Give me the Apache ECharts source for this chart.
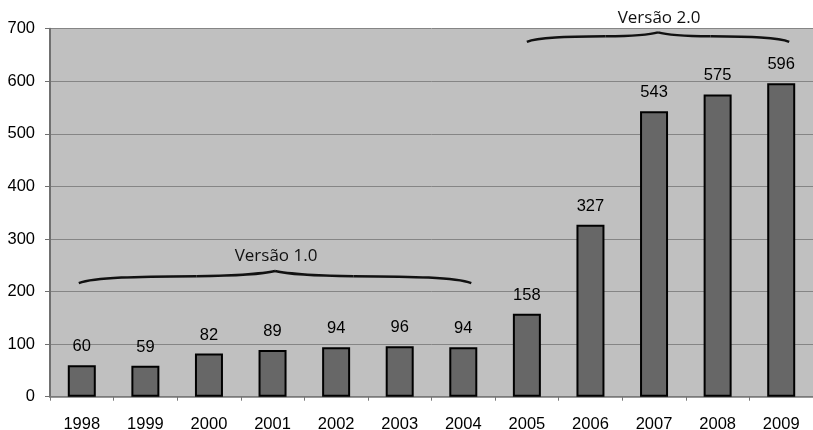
<!DOCTYPE html>
<html>
<head>
<meta charset="utf-8">
<script src="https://cdn.jsdelivr.net/npm/echarts@6/dist/echarts.min.js"></script>
<style>
html,body{margin:0;padding:0;background:#fff;}
#chart{width:813px;height:430px;}
</style>
</head>
<body>
<div id="chart"></div>
<script>
// Yearly counts, 1998–2009
var years = ['1998','1999','2000','2001','2002','2003','2004','2005','2006','2007','2008','2009'];
var counts = [60, 59, 82, 89, 94, 96, 94, 158, 327, 543, 575, 596];
var yTicks = [0, 100, 200, 300, 400, 500, 600, 700];

// Brace annotations: [first category, last category, base value, peak value, text]
var braceV1 = ['1998', '2004', 216, 239, 'Versão 1.0'];
var braceV2 = ['2005', '2009', 675, 693, 'Versão 2.0'];

var FONT = 'Liberation Sans, Arial, sans-serif';
var chart = echarts.init(document.getElementById('chart'));

chart.setOption({
  animation: false,
  backgroundColor: '#ffffff',
  grid: { left: 50, right: 0, top: 28.7, bottom: 33.3, containLabel: false,
          outerBoundsMode: 'none',
          show: true, backgroundColor: '#c0c0c0', borderWidth: 0 },
  xAxis: {
    type: 'category',
    data: years,
    axisLine: { show: true, lineStyle: { color: '#777777', width: 1.5 } },
    axisTick: { show: true, length: 4, lineStyle: { color: '#777777' } },
    axisLabel: { color: '#000', fontFamily: FONT, fontSize: 16.5, margin: 19 }
  },
  yAxis: {
    type: 'value',
    min: yTicks[0],
    max: yTicks[yTicks.length - 1],
    interval: 100,
    axisLine: { show: true, lineStyle: { color: '#707070', width: 2 } },
    axisTick: { show: true, length: 5, lineStyle: { color: '#707070' } },
    axisLabel: { color: '#000', fontFamily: FONT, fontSize: 16.5, margin: 15 },
    splitLine: { show: true, lineStyle: { color: '#858585', width: 1 } }
  },
  series: [{
    type: 'bar',
    data: counts,
    barWidth: 28,
    itemStyle: { color: '#676767', borderColor: '#000', borderWidth: 2 },
    label: { show: true, position: 'top', distance: 10, color: '#000',
             fontFamily: FONT, fontSize: 16.5 }
  }]
});

// One half of a curly brace as two cubic segments, from an end point to the middle peak
function braceHalf(sx, dir, xm, hw, yb, yp) {
  var h = yb - yp;
  var mid = [sx + dir * 0.6 * hw, yb - 0.58 * h];
  var st = { stroke: '#111', lineWidth: 2.5, fill: null };
  return [
    { type: 'bezierCurve', z: 100, style: st,
      shape: { x1: sx, y1: yb,
               cpx1: sx + dir * 0.08 * hw, cpy1: yb - 0.5 * h,
               cpx2: sx + dir * 0.3 * hw, cpy2: yb - 0.55 * h,
               x2: mid[0], y2: mid[1] } },
    { type: 'bezierCurve', z: 100, style: st,
      shape: { x1: mid[0], y1: mid[1],
               cpx1: xm - dir * 0.25 * hw, cpy1: yb - 0.6 * h,
               cpx2: xm - dir * 0.06 * hw, cpy2: yb - 0.75 * h,
               x2: xm, y2: yp } }
  ];
}

function braceGraphics(b, dxL, dxR) {
  var pL = chart.convertToPixel({ gridIndex: 0 }, [b[0], b[2]]);
  var pR = chart.convertToPixel({ gridIndex: 0 }, [b[1], b[2]]);
  var pP = chart.convertToPixel({ gridIndex: 0 }, [b[0], b[3]]);
  var x1 = pL[0] + dxL, x2 = pR[0] + dxR;
  var xm = (x1 + x2) / 2, hw = (x2 - x1) / 2;
  return braceHalf(x1, 1, xm, hw, pL[1], pP[1])
    .concat(braceHalf(x2, -1, xm, hw, pL[1], pP[1]))
    .concat([{ type: 'text', x: xm + 1, y: pP[1] - 6, z: 100,
      style: { text: b[4], fill: '#111', font: '17px "Open Sans", "DejaVu Sans", sans-serif',
               textAlign: 'center', textVerticalAlign: 'bottom' } }]);
}

chart.setOption({
  graphic: { elements: braceGraphics(braceV1, -3, 8).concat(braceGraphics(braceV2, 0, 8)) }
});
</script>
</body>
</html>
